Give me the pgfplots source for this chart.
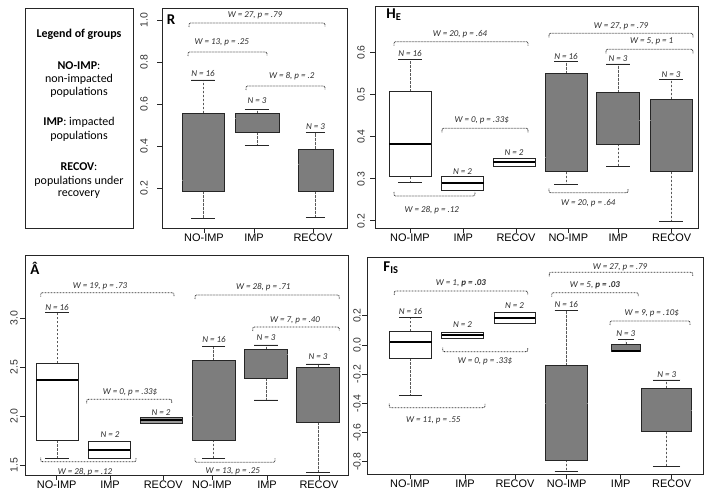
\documentclass[border=0pt]{standalone}
\usepackage{pgfplots}
\pgfplotsset{compat=1.18}
\usepgfplotslibrary{statistics}
\usepackage{fontspec}
\setmainfont{Carlito}
\newfontfamily\arialf{Liberation Sans}
\definecolor{boxgray}{RGB}{125,125,125}
\definecolor{anncol}{RGB}{45,45,45}
\tikzset{
  whisk/.style={draw=black!65, line width=0.6bp, dash pattern=on 2.5bp off 1.5bp},
  capst/.style={draw=black!85, line width=0.7bp, solid},
  annt/.style={font=\fontsize{9}{10}\selectfont\itshape, text=anncol, inner sep=0pt},
  brc/.style={draw=black!80, line width=0.8bp, dash pattern=on 0.8bp off 0.7bp},
}
\newcommand\ann[3]{\node[annt] at (#1,#2) {#3};}
\newcommand\bdown[3]{\draw[brc] (#1,#3+4) .. controls (#1,#3) .. (#1+4,#3) -- (#2-4,#3) .. controls (#2,#3) .. (#2,#3+4);}
\newcommand\bup[3]{\draw[brc] (#1,#3-4) .. controls (#1,#3) .. (#1+4,#3) -- (#2-4,#3) .. controls (#2,#3) .. (#2,#3-4);}
\pgfplotsset{
  boxplot/draw direction=y,
  boxplot/whisker extend={\pgfkeysvalueof{/pgfplots/boxplot/box extend}*0.55},
  boxplot/draw/lower whisker/.code={%
    \draw[whisk] (boxplot box cs:\pgfplotsboxplotvalue{lower quartile},0.5)
      -- (boxplot box cs:\pgfplotsboxplotvalue{lower whisker},0.5);
    \draw[capst] (boxplot whisker cs:\pgfplotsboxplotvalue{lower whisker},0)
      -- (boxplot whisker cs:\pgfplotsboxplotvalue{lower whisker},1);
  },
  boxplot/draw/upper whisker/.code={%
    \draw[whisk] (boxplot box cs:\pgfplotsboxplotvalue{upper quartile},0.5)
      -- (boxplot box cs:\pgfplotsboxplotvalue{upper whisker},0.5);
    \draw[capst] (boxplot whisker cs:\pgfplotsboxplotvalue{upper whisker},0)
      -- (boxplot whisker cs:\pgfplotsboxplotvalue{upper whisker},1);
  },
  gbox/.style={fill=boxgray, draw=black!85, line width=0.6bp, solid,
    boxplot/every median/.style={draw=boxgray, line width=0.6bp}},
  wbox/.style={fill=white, draw=black!85, line width=0.6bp, solid,
    boxplot/every median/.style={draw=black, line width=2bp}},
  rpanel/.style={
    scale only axis, anchor=south west, clip=false,
    axis line style={line width=0.9bp, black!85},
    tick align=outside, major tick length=5bp,
    tick style={line width=0.7bp, black!85},
    xtick pos=left, ytick pos=left,
    xticklabel style={font=\arialf\fontsize{11}{12}\selectfont, text=black, inner sep=1bp},
    yticklabel style={font=\arialf\fontsize{10.5}{11}\selectfont, text=black!80, rotate=90, anchor=south, inner sep=1bp},
  },
}
\begin{document}
\begin{tikzpicture}
\path[use as bounding box] (0bp,0bp) rectangle (709bp,499bp);
% ---------------- R ----------------
\begin{axis}[rpanel, at={(162bp,271bp)}, width=185bp, height=220bp,
  yticklabel shift=8bp,
  xmin=162, xmax=347, ymin=0.0114, ymax=1.057,
  xtick={204,254,313}, xticklabels={NO-IMP,IMP,RECOV},
  ytick={0.2,0.4,0.6,0.8,1.0}, yticklabels={0.2,0.4,0.6,0.8,1.0}]
\addplot[gbox, boxplot prepared={draw position=203, box extend=42, lower whisker=0.0575, lower quartile=0.187, median=0.240, upper quartile=0.557, upper whisker=0.715}] coordinates {};
\addplot[gbox, boxplot prepared={draw position=257, box extend=44, lower whisker=0.403, lower quartile=0.466, median=0.533, upper quartile=0.555, upper whisker=0.576}] coordinates {};
\addplot[gbox, boxplot prepared={draw position=315.5, box extend=35, lower whisker=0.062, lower quartile=0.187, median=0.316, upper quartile=0.387, upper whisker=0.464}] coordinates {};
\end{axis}
% ---------------- H_E ----------------
\begin{axis}[rpanel, at={(375bp,271bp)}, width=323bp, height=222bp,
  yticklabel shift=4bp,
  xmin=375, xmax=698, ymin=0.183, ymax=0.7106,
  xtick={410,463.3,516,568.3,618.3,671.7}, xticklabels={NO-IMP,IMP,RECOV,NO-IMP,IMP,RECOV},
  ytick={0.2,0.3,0.4,0.5,0.6}, yticklabels={0.2,0.3,0.4,0.5,0.6}]
\addplot[wbox, boxplot prepared={draw position=410, box extend=42, lower whisker=0.291, lower quartile=0.305, median=0.383, upper quartile=0.507, upper whisker=0.584}] coordinates {};
\addplot[wbox, boxplot prepared={draw position=462.5, box extend=42, lower whisker=0.272, lower quartile=0.272, median=0.289, upper quartile=0.305, upper whisker=0.305}] coordinates {};
\addplot[wbox, boxplot prepared={draw position=514, box extend=42, lower whisker=0.329, lower quartile=0.329, median=0.339, upper quartile=0.349, upper whisker=0.349}] coordinates {};
\addplot[gbox, boxplot prepared={draw position=566, box extend=42, lower whisker=0.286, lower quartile=0.317, median=0.35, upper quartile=0.55, upper whisker=0.578}] coordinates {};
\addplot[gbox, boxplot prepared={draw position=618, box extend=43, lower whisker=0.329, lower quartile=0.383, median=0.439, upper quartile=0.505, upper whisker=0.573}] coordinates {};
\addplot[gbox, boxplot prepared={draw position=671, box extend=42, lower whisker=0.198, lower quartile=0.317, median=0.439, upper quartile=0.489, upper whisker=0.536}] coordinates {};
\end{axis}
% ---------------- A hat ----------------
\begin{axis}[rpanel, at={(25bp,24bp)}, width=323bp, height=220bp,
  yticklabel shift=1bp,
  xmin=25, xmax=348, ymin=1.398, ymax=3.647,
  xtick={56.7,110,163.3,212,267,319}, xticklabels={NO-IMP,IMP,RECOV,NO-IMP,IMP,RECOV},
  ytick={1.5,2.0,2.5,3.0}, yticklabels={1.5,2.0,2.5,3.0}]
\addplot[wbox, boxplot prepared={draw position=57, box extend=42, lower whisker=1.568, lower quartile=1.755, median=2.37, upper quartile=2.54, upper whisker=3.06}] coordinates {};
\addplot[wbox, boxplot prepared={draw position=109, box extend=42, lower whisker=1.568, lower quartile=1.568, median=1.653, upper quartile=1.738, upper whisker=1.738}] coordinates {};
\addplot[wbox, fill=black!40, boxplot prepared={draw position=161, box extend=42, lower whisker=1.925, lower quartile=1.925, median=1.959, upper quartile=1.983, upper whisker=1.983}] coordinates {};
\addplot[gbox, boxplot prepared={draw position=213.7, box extend=42.5, lower whisker=1.569, lower quartile=1.756, median=2.0, upper quartile=2.566, upper whisker=2.710}] coordinates {};
\addplot[gbox, boxplot prepared={draw position=266, box extend=43, lower whisker=2.165, lower quartile=2.386, median=2.632, upper quartile=2.683, upper whisker=2.727}] coordinates {};
\addplot[gbox, boxplot prepared={draw position=318, box extend=42.5, lower whisker=1.421, lower quartile=1.937, median=2.461, upper quartile=2.495, upper whisker=2.533}] coordinates {};
\end{axis}
% ---------------- F_IS ----------------
\begin{axis}[rpanel, at={(367bp,25bp)}, width=336bp, height=217bp,
  xmin=367, xmax=703, ymin=-0.884, ymax=0.602,
  xtick={410,465,515,566.7,620.7,671.7}, xticklabels={NO-IMP,IMP,RECOV,NO-IMP,IMP,RECOV},
  ytick={-0.8,-0.6,-0.4,-0.2,0,0.2}, yticklabels={-0.8,-0.6,-0.4,-0.2,0.0,0.2}]
\addplot[wbox, boxplot prepared={draw position=410.5, box extend=42, lower whisker=-0.348, lower quartile=-0.092, median=0.022, upper quartile=0.095, upper whisker=0.186}] coordinates {};
\addplot[wbox, boxplot prepared={draw position=462.5, box extend=42, lower whisker=0.045, lower quartile=0.045, median=0.068, upper quartile=0.084, upper whisker=0.084}] coordinates {};
\addplot[wbox, boxplot prepared={draw position=514.5, box extend=41, lower whisker=0.148, lower quartile=0.148, median=0.186, upper quartile=0.223, upper whisker=0.223}] coordinates {};
\addplot[gbox, boxplot prepared={draw position=566.3, box extend=42.7, lower whisker=-0.864, lower quartile=-0.788, median=-0.40, upper quartile=-0.142, upper whisker=0.239}] coordinates {};
\addplot[gbox, boxplot/every median/.style={draw=black, line width=2bp}, boxplot prepared={draw position=625.8, box extend=28.3, lower whisker=-0.047, lower quartile=-0.047, median=-0.045, upper quartile=0.004, upper whisker=0.038}] coordinates {};
\addplot[gbox, boxplot prepared={draw position=666.7, box extend=50, lower whisker=-0.834, lower quartile=-0.595, median=-0.45, upper quartile=-0.297, upper whisker=-0.24}] coordinates {};
\end{axis}
% ---------------- annotations (pixel coordinates) ----------------
\begin{scope}[x=1bp, y=-1bp, shift={(0bp,499bp)}]
% legend
\draw[line width=0.9bp, black!85] (25,8) rectangle (133,228);
\begin{scope}[every node/.style={font=\fontsize{12}{13.5}\selectfont, inner sep=0pt}]
\node at (79,34.3) {\textbf{Legend of groups}};
\node at (79,65.7) {\textbf{NO-IMP}:};
\node at (79,79) {non-impacted};
\node at (79,92.7) {populations};
\node at (79,122.3) {\textbf{IMP}: impacted};
\node at (79,136.7) {populations};
\node at (79,166.7) {\textbf{RECOV}:};
\node at (79,181.7) {populations under};
\node at (79,195) {recovery};
\end{scope}
% panel letters
\begin{scope}[every node/.style={font=\fontsize{15}{16}\selectfont\bfseries, inner sep=0pt}]
\node at (171,20) {R};
\node at (394,15) {H\textsubscript{E}};
\node at (35,268) {Â};
\node at (391,268) {F\textsubscript{IS}};
\end{scope}
% R
\ann{255}{15}{W = 27, p = .79}\bdown{189}{325}{23}
\ann{221.7}{42}{W = 13, p = .25}\bdown{188}{267}{52}
\ann{291.7}{76}{W = 8, p = .2}\bdown{246}{325}{86}
\ann{203}{74}{N = 16}\ann{257}{101}{N = 3}\ann{315.5}{127}{N = 3}
% H_E
\ann{460}{34.3}{W = 20, p = .64}\bdown{394}{528}{41.7}
\ann{481.7}{120}{W = 0, p = .33\$}\bdown{442}{528}{128.3}
\ann{431.7}{210}{W = 28, p = .12}\bup{394}{475}{196}
\ann{621}{26}{W = 27, p = .79}\bdown{549}{693}{33.3}
\ann{651.7}{41.7}{W = 5, p = 1}\bdown{606}{693}{49.3}
\ann{588.3}{203.3}{W = 20, p = .64}\bup{549}{628}{192.7}
\ann{410}{53.3}{N = 16}\ann{462.5}{171.7}{N = 2}\ann{514}{152.3}{N = 2}
\ann{566}{57}{N = 16}\ann{618}{59}{N = 3}\ann{671}{75}{N = 3}
% A hat
\ann{100}{286}{W = 19, p = .73}\bdown{40.7}{174}{292.7}
\ann{130}{392.7}{W = 0, p = .33\$}\bdown{86.7}{171.7}{399.3}
\ann{85}{471.7}{W = 28, p = .12}\bup{40.7}{136}{461.7}
\ann{263.3}{286.7}{W = 28, p = .71}\bdown{195}{339.3}{295}
\ann{295}{320.5}{W = 7, p = .40}\bdown{252.7}{339.3}{327}
\ann{232.7}{471}{W = 13, p = .25}\bup{195}{275}{462.3}
\ann{57}{307.3}{N = 16}\ann{110}{434.3}{N = 2}\ann{161}{412.3}{N = 2}
\ann{214}{340}{N = 16}\ann{266}{338}{N = 3}\ann{318}{356.7}{N = 3}
% F_IS
\ann{461}{283.3}{W = 1, \textbf{p = .03}}\bdown{394.3}{527.7}{291}
\ann{485}{361.7}{W = 0, p = .33\$}\bup{442.7}{527.7}{351.7}
\ann{433.3}{420}{W = 11, p = .55}\bup{389.3}{485}{407.7}
\ann{620}{267.7}{W = 27, p = .79}\bdown{549.3}{692.7}{272.3}
\ann{595}{285}{W = 5, \textbf{p = .03}}\bdown{551.7}{638.3}{292.7}
\ann{651.7}{313.3}{W = 9, p = .10\$}\bdown{610}{690}{321}
\ann{410.5}{311.7}{N = 16}\ann{462.5}{325}{N = 2}\ann{514.5}{305.7}{N = 2}
\ann{566.3}{304.3}{N = 16}\ann{625.8}{333.3}{N = 3}\ann{666.7}{375}{N = 3}
\end{scope}
\end{tikzpicture}
\end{document}
